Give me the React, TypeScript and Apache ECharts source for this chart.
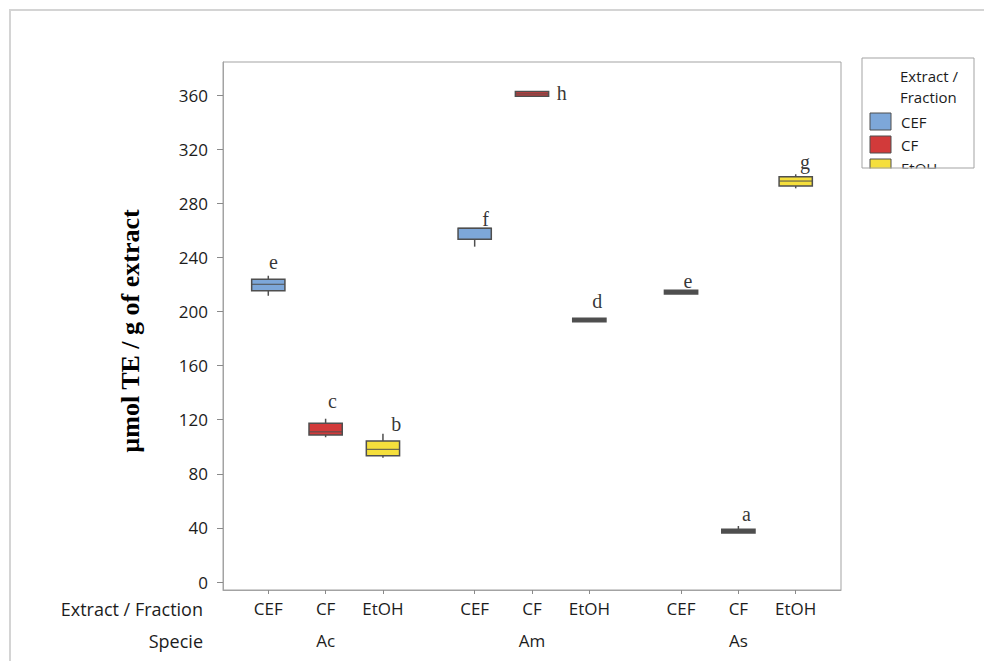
import React, { useEffect, useRef } from "react";
import * as echarts from "echarts";

// ---- data ----
const fractions = ["CEF", "CF", "EtOH"];
const species = ["Ac", "Am", "As"];
const xPositions = [0, 1, 2, 3.6, 4.6, 5.6, 7.2, 8.2, 9.2];
const categoryLabels = ["CEF", "CF", "EtOH", "CEF", "CF", "EtOH", "CEF", "CF", "EtOH"];
const fractionIndex = [0, 1, 2, 0, 1, 2, 0, 1, 2];
const speciesPositions = [1, 4.6, 8.2];

const boxMin = [211.6, 107.0, 91.9, 247.9, 359.0, 192.4, 212.9, 36.2, 291.0];
const boxQ1 = [215.3, 108.7, 93.4, 253.3, 359.0, 192.4, 212.9, 36.2, 292.7];
const boxMedian = [220.1, 111.0, 98.1, 261.5, 360.8, 193.7, 214.3, 37.6, 296.4];
const boxQ3 = [223.8, 117.3, 104.2, 261.5, 362.6, 195.0, 215.7, 39.0, 299.6];
const boxMax = [226.4, 120.7, 109.6, 261.5, 362.6, 195.0, 215.7, 41.4, 301.4];

const letters = ["e", "c", "b", "f", "h", "d", "e", "a", "g"];
const letterY = [236.5, 133.8, 116.8, 268.3, 361.5, 207.7, 222.5, 50.3, 310.5];
const letterDx = [0.09, 0.12, 0.23, 0.19, 0.52, 0.14, 0.12, 0.14, 0.16];

const yTicks = [0, 40, 80, 120, 160, 200, 240, 280, 320, 360];
const legendTitle = ["Extract /", "Fraction"];

const colors = ["#7da7d9", "#d23a3a", "#f5df3c"];
const BORDER = "#4f4f4f";
const TEXT = "#1c1c1c";
const SANS = "'Open Sans', 'Noto Sans', sans-serif";
const SERIF = "'Liberation Serif', 'DejaVu Serif', serif";

function labelFor(list: number[], names: string[], v: number) {
  for (let i = 0; i < list.length; i++) if (Math.abs(list[i] - v) < 1e-6) return names[i];
  return "";
}

export default function App() {
  const ref = useRef<HTMLDivElement>(null);
  useEffect(() => {
    if (!ref.current) return;
    const chart = echarts.init(ref.current, null, { renderer: "svg" });

    const boxData = xPositions.map((x, i) => [x, boxMin[i], boxQ1[i], boxMedian[i], boxQ3[i], boxMax[i], fractionIndex[i]]);
    const letterData = xPositions.map((x, i) => ({ value: [x + letterDx[i], letterY[i]], name: letters[i] }));

    const legendItems: any[] = [];
    legendTitle.forEach((t, i) => {
      legendItems.push({
        type: "text", z: 10, x: 900, y: 76 + i * 21,
        style: { text: t, fontFamily: SANS, fontSize: 15, fill: TEXT, verticalAlign: "middle" },
      });
    });
    fractions.forEach((f, i) => {
      const y = 113 + i * 23;
      legendItems.push({
        type: "rect", z: 10,
        shape: { x: 870, y, width: 21, height: 17 },
        style: { fill: colors[i], stroke: BORDER, lineWidth: 1 },
      });
      legendItems.push({
        type: "text", z: 10, x: 901, y: y + 9,
        style: { text: f, fontFamily: SANS, fontSize: 15, fill: TEXT, verticalAlign: "middle" },
      });
    });

    chart.setOption({
      animation: false,
      backgroundColor: "#ffffff",
      grid: {
        left: 223, top: 62, width: 618, height: 528,
        show: true, borderColor: "#a3a3a3", borderWidth: 1,
      },
      xAxis: [
        {
          type: "value", min: -0.79, max: 9.99, position: "bottom",
          axisLine: { show: true, onZero: false, lineStyle: { color: "#a3a3a3" } },
          axisTick: { show: true, customValues: xPositions, length: 4, lineStyle: { color: "#8a8a8a" } },
          axisLabel: {
            customValues: xPositions, margin: 10, fontFamily: SANS, fontSize: 17, color: TEXT,
            formatter: (v: number) => labelFor(xPositions, categoryLabels, v),
          },
          splitLine: { show: false },
        },
        {
          type: "value", min: -0.79, max: 9.99, position: "bottom",
          axisLine: { show: false, onZero: false },
          axisTick: { show: false },
          axisLabel: {
            customValues: speciesPositions, margin: 42, fontFamily: SANS, fontSize: 17, color: TEXT,
            formatter: (v: number) => labelFor(speciesPositions, species, v),
          },
          splitLine: { show: false },
        },
      ],
      yAxis: {
        type: "value", min: -5.9, max: 384.4,
        axisLine: { show: true, onZero: false, lineStyle: { color: "#a3a3a3" } },
        axisTick: { show: true, customValues: yTicks, length: 6, lineStyle: { color: "#8a8a8a" } },
        axisLabel: { customValues: yTicks, margin: 15, fontFamily: SANS, fontSize: 17, color: TEXT },
        splitLine: { show: false },
      },
      series: [
        {
          type: "custom",
          xAxisIndex: 0, yAxisIndex: 0,
          data: boxData,
          renderItem: (params: any, api: any) => {
            const x = api.value(0);
            const pMin = api.coord([x, api.value(1)]);
            const pQ1 = api.coord([x, api.value(2)]);
            const pMd = api.coord([x, api.value(3)]);
            const pQ3 = api.coord([x, api.value(4)]);
            const pMax = api.coord([x, api.value(5)]);
            const ci = api.value(6);
            const w = api.size([0.58, 0])[0];
            const cx = pMd[0];
            const h = Math.max(pQ1[1] - pQ3[1], 0);
            const line = { stroke: BORDER, lineWidth: 1.5 };
            return {
              type: "group",
              children: [
                { type: "line", shape: { x1: cx, y1: pMax[1], x2: cx, y2: pQ3[1] }, style: line },
                { type: "line", shape: { x1: cx, y1: pQ1[1], x2: cx, y2: pMin[1] }, style: line },
                {
                  type: "rect",
                  shape: { x: cx - w / 2, y: pQ3[1], width: w, height: h },
                  style: { fill: h < 4.5 ? BORDER : colors[ci], stroke: BORDER, lineWidth: 1.5 },
                },
                { type: "line", shape: { x1: cx - w / 2, y1: pMd[1], x2: cx + w / 2, y2: pMd[1] }, style: { stroke: BORDER, lineWidth: 1 } },
              ],
            };
          },
        },
        {
          type: "scatter",
          data: letterData,
          symbolSize: 0,
          label: {
            show: true, position: "inside",
            formatter: (p: any) => p.name,
            fontFamily: SERIF, fontSize: 20, color: "#000",
          },
        },
      ],
      graphic: [
        {
          type: "rect", z: 0, silent: true,
          shape: { x: 10, y: 10, width: 990, height: 680 },
          style: { fill: "none", stroke: "#d4d4d4", lineWidth: 2 },
        },
        {
          type: "text", x: 130, y: 331, rotation: Math.PI / 2,
          style: {
            text: "µmol TE / g of extract", fontFamily: SERIF, fontSize: 26, fontWeight: "bold",
            fill: "#000", align: "center", verticalAlign: "middle",
          },
        },
        {
          type: "text", x: 203, y: 609,
          style: { text: "Extract / Fraction", fontFamily: SANS, fontSize: 18, fill: TEXT, align: "right", verticalAlign: "middle" },
        },
        {
          type: "text", x: 203, y: 641,
          style: { text: "Specie", fontFamily: SANS, fontSize: 18, fill: TEXT, align: "right", verticalAlign: "middle" },
        },
        {
          type: "rect", z: 5,
          shape: { x: 862, y: 58, width: 112, height: 110 },
          style: { fill: "#ffffff", stroke: "none" },
        },
        ...legendItems,
        {
          type: "rect", z: 20,
          shape: { x: 860, y: 168.5, width: 118, height: 30 },
          style: { fill: "#ffffff", stroke: "none" },
        },
        {
          type: "rect", z: 30,
          shape: { x: 862, y: 58, width: 112, height: 110 },
          style: { fill: "none", stroke: "#a3a3a3", lineWidth: 1 },
        },
      ],
    });
    return () => chart.dispose();
  }, []);

  return (
    <div
      ref={ref}
      style={{ position: "fixed", left: 0, top: 0, width: 984, height: 661, background: "#fff" }}
    />
  );
}
